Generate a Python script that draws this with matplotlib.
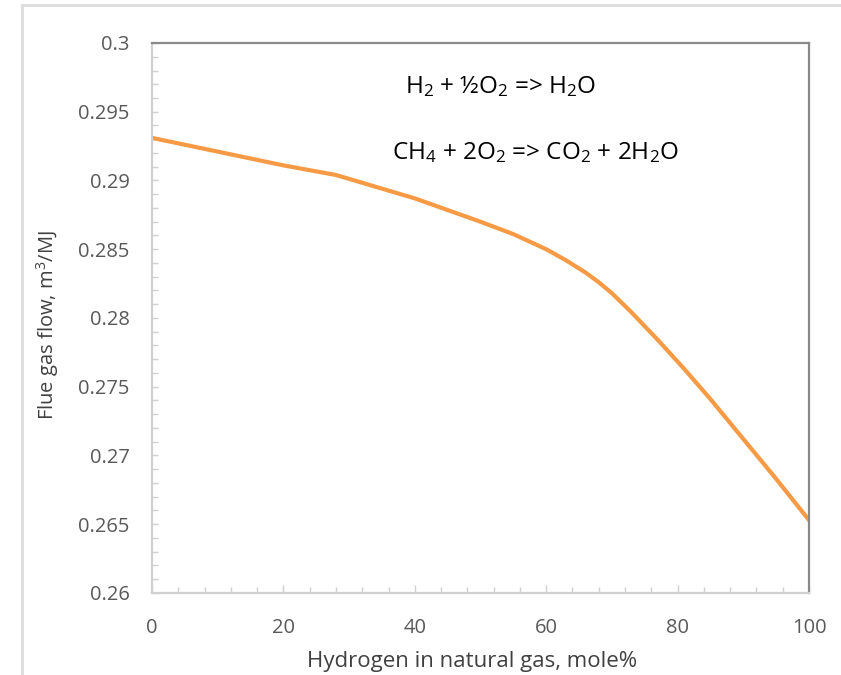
import matplotlib
matplotlib.use("Agg")
import matplotlib.pyplot as plt
from matplotlib.lines import Line2D
from matplotlib.ticker import MultipleLocator, FuncFormatter

plt.rcParams['font.family'] = ['Open Sans', 'DejaVu Sans']
plt.rcParams['mathtext.fontset'] = 'custom'
plt.rcParams['mathtext.rm'] = 'Open Sans'
plt.rcParams['mathtext.it'] = 'Open Sans'

# hydrogen content (mole%) and flue gas flow (m3/MJ)
hydrogen = [0, 10, 20, 28, 40, 50, 55, 60, 63, 66, 68, 70, 73, 77, 81, 85, 90, 95, 100]
flue_gas = [0.2931, 0.2921, 0.2911, 0.2904, 0.2887, 0.2870, 0.2861, 0.2850, 0.2842,
            0.2833, 0.2826, 0.2818, 0.2804, 0.2784, 0.2763, 0.2741, 0.2712, 0.2683, 0.2653]

reactions = [r'H$_2$ + ½O$_2$ => H$_2$O',
             r'CH$_4$ + 2O$_2$ => CO$_2$ + 2H$_2$O']

fig = plt.figure(figsize=(8.41, 6.75), dpi=100)
ax = fig.add_axes([152 / 841, 1 - 593 / 675, (809 - 152) / 841, (593 - 43) / 675])

ax.plot(hydrogen, flue_gas, color='#f79a45', lw=3, solid_joinstyle='round')

ax.set_xlim(0, 100)
ax.set_ylim(0.26, 0.3)
ax.xaxis.set_major_locator(MultipleLocator(20))
ax.xaxis.set_minor_locator(MultipleLocator(4))
ax.yaxis.set_major_locator(MultipleLocator(0.005))
ax.yaxis.set_minor_locator(MultipleLocator(0.001))
ax.yaxis.set_major_formatter(FuncFormatter(lambda v, p: f'{v:g}'))

light = '#d0d0d0'
dark = '#8a8a8a'
for s in ['left', 'bottom']:
    ax.spines[s].set_color(light)
    ax.spines[s].set_linewidth(1.6)
for s in ['top', 'right']:
    ax.spines[s].set_color(dark)
    ax.spines[s].set_linewidth(1.6)

ax.tick_params(axis='x', which='major', direction='in', length=6, width=1, color=light,
               labelsize=14.5, labelcolor='#595959', pad=18)
ax.tick_params(axis='x', which='minor', direction='in', length=4, width=1, color=light)
ax.tick_params(axis='y', which='major', direction='in', length=4, width=1, color=light,
               labelsize=14.5, labelcolor='#595959', pad=16)
ax.tick_params(axis='y', which='minor', direction='in', length=4, width=1, color=light)

# axis titles placed in figure pixels as in the original
fig.text(472 / 841, 1 - 661 / 675, 'Hydrogen in natural gas, mole%', fontsize=16,
         color='#404040', ha='center', va='center')
fig.text(48 / 841, 1 - 325 / 675, 'Flue gas flow, m$^3$/MJ', fontsize=14.5,
         color='#404040', ha='center', va='center', rotation=90)

ax.text(0.385, 0.92, reactions[0], transform=ax.transAxes, fontsize=17.5, color='black',
        va='center', ha='left')
ax.text(0.366, 0.80, reactions[1], transform=ax.transAxes, fontsize=17.5, color='black',
        va='center', ha='left')

# partial frame of the original picture
fig.add_artist(Line2D([22 / 841, 1], [1 - 5 / 675, 1 - 5 / 675], color='#dcdcdc', lw=2))
fig.add_artist(Line2D([22 / 841, 22 / 841], [0, 1 - 5 / 675], color='#dcdcdc', lw=2))

fig.savefig('out.png', dpi=100)
